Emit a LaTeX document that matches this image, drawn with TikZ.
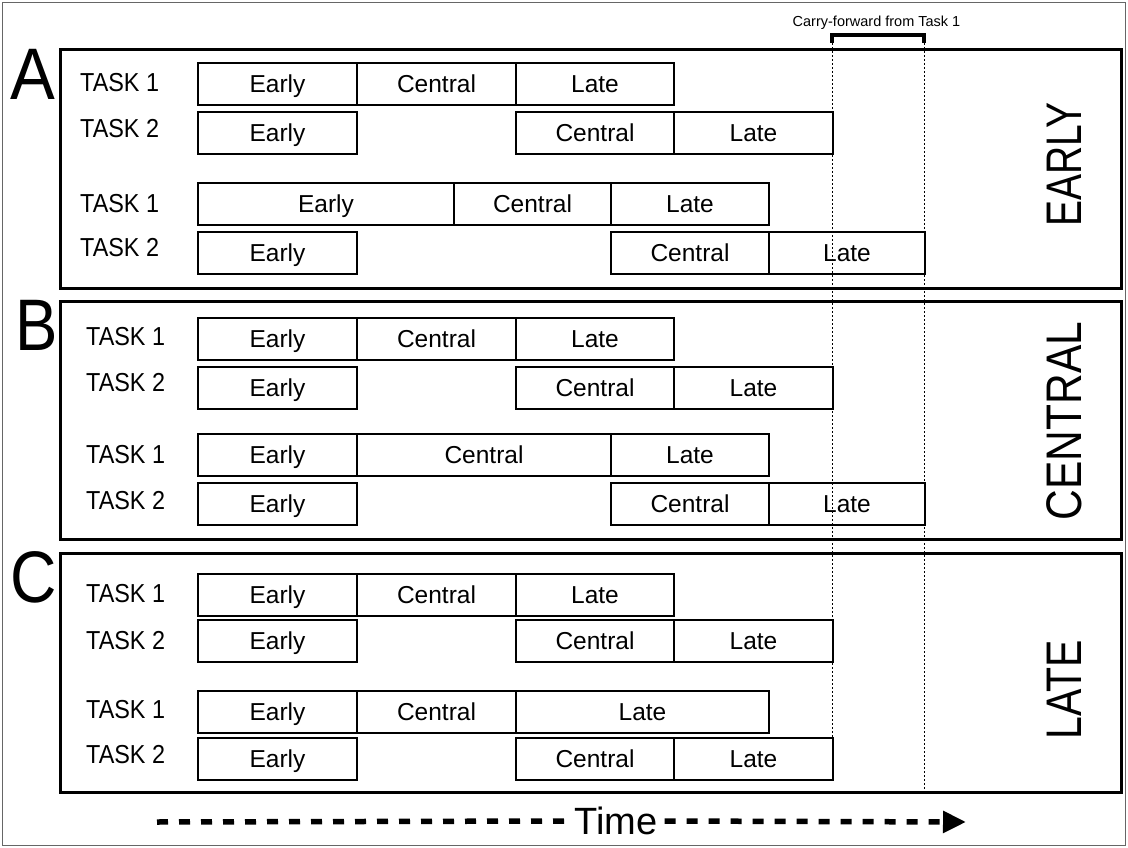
\documentclass[tikz,border=0pt]{standalone}
\usepackage{fontspec}
\setmainfont{Liberation Sans}
\usetikzlibrary{arrows.meta}
\newcommand\bx[5]{\node[seg, minimum width=#3pt-#2pt, anchor=north west] (#1) at (#2,#4) {#5};}
\newcommand\tsk[4]{\node[tasklbl] (#1) at (#2,#3) {\scalebox{0.9}[1]{#4}};}
\begin{document}
\begin{tikzpicture}[x=1pt,y=-1pt,
  seg/.style={draw, line width=2pt, minimum height=42pt, inner sep=0pt, text height=17.5pt, text depth=0pt, font=\fontsize{24.5}{28}\selectfont},
  tasklbl/.style={anchor=base west, inner sep=0pt, font=\fontsize{26}{30}\selectfont},
  panel/.style={draw, line width=2.8pt, inner sep=0pt, anchor=north west, minimum width=1061pt},
  bigletter/.style={anchor=base west, inner sep=0pt, font=\fontsize{73}{80}\selectfont},
  sidelbl/.style={rotate=90, inner sep=0pt, font=\fontsize{50}{56}\selectfont},
  dotline/.style={line width=0.8pt, dash pattern=on 2pt off 2pt},
  bracket/.style={line width=3.2pt},
  timeline/.style={line width=5.5pt, dash pattern=on 11pt off 11pt}]
\useasboundingbox (0,0) rectangle (1128,848);
\draw[black!60, line width=1pt] (2.5,2.5) rectangle (1125.5,845.5);

% panels
\node[panel, minimum height=239pt] (pA) at (59,48) {};
\node[panel, minimum height=238pt] (pB) at (59,300) {};
\node[panel, minimum height=239pt] (pC) at (59,552) {};

\node[bigletter] (LA) at (10,100) {\scalebox{0.92}[1]{A}};
\node[bigletter] (LB) at (15,350) {\scalebox{0.87}[1]{B}};
\node[bigletter] (LC) at (10,602) {\scalebox{0.88}[1]{C}};

\node[sidelbl] (sA) at (1064,164.5) {\scalebox{0.78}[1]{EARLY}};
\node[sidelbl] (sB) at (1064,421) {\scalebox{0.85}[1]{CENTRAL}};
\node[sidelbl] (sC) at (1064,690) {\scalebox{0.82}[1]{LATE}};

% Panel A
\tsk{tA1}{80}{92}{TASK 1}
\tsk{tA2}{80}{138}{TASK 2}
\tsk{tA3}{80}{213}{TASK 1}
\tsk{tA4}{80}{256}{TASK 2}
\bx{A1e}{197}{356}{62}{Early} \bx{A1c}{356}{515}{62}{Central} \bx{A1l}{515}{673}{62}{Late}
\bx{A2e}{197}{356}{111}{Early} \bx{A2c}{515}{673}{111}{Central} \bx{A2l}{673}{832}{111}{Late}
\bx{A3e}{197}{453}{182}{Early} \bx{A3c}{453}{610}{182}{Central} \bx{A3l}{610}{768}{182}{Late}
\bx{A4e}{197}{356}{231}{Early} \bx{A4c}{610}{768}{231}{Central} \bx{A4l}{768}{924}{231}{Late}

% Panel B
\tsk{tB1}{86}{345}{TASK 1}
\tsk{tB2}{86}{391}{TASK 2}
\tsk{tB3}{86}{463}{TASK 1}
\tsk{tB4}{86}{509}{TASK 2}
\bx{B1e}{197}{356}{317}{Early} \bx{B1c}{356}{515}{317}{Central} \bx{B1l}{515}{673}{317}{Late}
\bx{B2e}{197}{356}{366}{Early} \bx{B2c}{515}{673}{366}{Central} \bx{B2l}{673}{832}{366}{Late}
\bx{B3e}{197}{356}{433}{Early} \bx{B3c}{356}{610}{433}{Central} \bx{B3l}{610}{768}{433}{Late}
\bx{B4e}{197}{356}{482}{Early} \bx{B4c}{610}{768}{482}{Central} \bx{B4l}{768}{924}{482}{Late}

% Panel C
\tsk{tC1}{86}{602}{TASK 1}
\tsk{tC2}{86}{649}{TASK 2}
\tsk{tC3}{86}{718}{TASK 1}
\tsk{tC4}{86}{763}{TASK 2}
\bx{C1e}{197}{356}{573}{Early} \bx{C1c}{356}{515}{573}{Central} \bx{C1l}{515}{673}{573}{Late}
\bx{C2e}{197}{356}{619}{Early} \bx{C2c}{515}{673}{619}{Central} \bx{C2l}{673}{832}{619}{Late}
\bx{C3e}{197}{356}{690}{Early} \bx{C3c}{356}{515}{690}{Central} \bx{C3l}{515}{768}{690}{Late}
\bx{C4e}{197}{356}{737}{Early} \bx{C4c}{515}{673}{737}{Central} \bx{C4l}{673}{832}{737}{Late}

% carry-forward
\node[anchor=base, inner sep=0pt, font=\fontsize{14.5}{16}\selectfont] (cf) at (876.5,26.5) {Carry-forward from Task 1};
\coordinate (cfL) at (832,43);
\coordinate (cfR) at (924,43);
\draw[bracket] (cfL) -- ++(0,-8) -| (cfR);
\coordinate (dL) at (832,737);
\coordinate (dR) at (924,791);
\draw[dotline] (cfL) -- (dL);
\draw[dotline] (cfR) -- (dR);

% time axis
\node[font=\fontsize{38}{44}\selectfont, inner sep=7pt] (time) at (616,821) {Time};
\coordinate (t0) at (157,822);
\coordinate (t1) at (966,822);
\draw[timeline] (t0) -- (time.west);
\draw[timeline, -{Triangle[length=23pt,width=21pt]}] (time.east) -- (t1);
\end{tikzpicture}
\end{document}
